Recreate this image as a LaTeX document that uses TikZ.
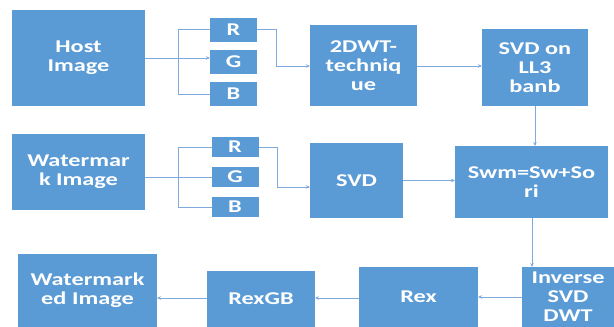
\documentclass[tikz,border=0pt]{standalone}
\usepackage{fontspec}
\usepackage{tikz}
\usetikzlibrary{positioning, arrows.meta, calc}
\newfontfamily\boxfont{Carlito}[FakeStretch=1.35]
\definecolor{BoxBlue}{HTML}{5B9BD5}
\definecolor{LinkBlue}{HTML}{7FAADB}

\begin{document}
\begin{tikzpicture}[
    x=1pt, y=-1pt,
    block/.style={fill=BoxBlue, inner sep=0pt, outer sep=0pt, align=center,
      text=white, font=\boxfont\bfseries\fontsize{18}{19}\selectfont},
    chan/.style={block, minimum width=47pt, minimum height=24pt},
    link/.style={LinkBlue, line width=0.7pt},
    flow/.style={link, -{Stealth[length=4pt, width=3.5pt]}}
]
  \useasboundingbox (0,0) rectangle (614,327);
  \clip (0,0) rectangle (614,327);
  % Host row
  \node[block, minimum width=133pt, minimum height=96pt] (host) at (78.5,58) {Host\\Image};
  \node[chan] (hr) at (233.5,29.5) {R};
  \node[chan] (hg) at (233.5,61.5) {G};
  \node[chan] (hb) at (233.5,94) {B};
  \node[block, minimum width=107pt, minimum height=81pt] (dwt) at (363.5,65.5) {2DWT-\\techniq\\ue};
  \node[block, minimum width=106pt, minimum height=77pt] (svdll) at (535,67.5) {SVD on\\LL3\\banb};
  % Watermark row
  \node[block, minimum width=133pt, minimum height=76pt] (wm) at (78.5,172) {Watermar\\k Image};
  \node[chan, minimum height=20pt] (wr) at (235,147) {R};
  \node[chan, minimum height=20pt] (wg) at (235,177) {G};
  \node[chan, minimum height=20pt] (wb) at (235,207) {B};
  \node[block, minimum width=93pt, minimum height=75pt] (svd) at (356.5,180.5) {SVD};
  \node[block, minimum width=153pt, minimum height=72pt] (swm) at (531.5,182) {Swm=Sw+So\\ri};
  % Output row
  \node[block, minimum width=92pt, minimum height=60pt] (inv) at (568,297) {Inverse\\SVD\\DWT};
  \node[block, minimum width=119pt, minimum height=60pt] (rex) at (418.5,297) {Rex};
  \node[block, minimum width=108pt, minimum height=56pt] (rexgb) at (261,299) {RexGB};
  \node[block, minimum width=139pt, minimum height=73pt] (wmd) at (87.5,290.5) {Watermark\\ed Image};
  % Splits into channels
  \coordinate (hs) at (178,58);
  \coordinate (ws) at (178,177);
  \draw[link] (host.east |- hs) -- (hs);
  \draw[flow] (hs) -- (hs -| hg.west);
  \draw[link] (hr.west -| hs) |- (hr.west);
  \draw[link] (hb.west -| hs) |- (hb.west);
  \draw[link] (hr.west -| hs) -- (hb.west -| hs);
  \draw[link] (wm.east |- ws) -- (ws -| wg.west);
  \draw[link] (wr.west -| ws) -- (wr.west);
  \draw[link] (wb.west -| ws) -- (wb.west);
  \draw[link] (wr.west -| ws) -- (wb.west -| ws);
  % Links between blocks
  \coordinate (hk) at (276,66);
  \coordinate (wk) at (277,187);
  \draw[link] (hr.east) -| (hk);
  \draw[flow] (hk) -- (hk -| dwt.west);
  \draw[link] (wr.east) -| (wk);
  \draw[flow] (wk) -- (wk -| svd.west);
  \draw[flow] (dwt.east |- hk) -- (svdll.west |- hk);
  \draw[flow] (svdll.south) -- (swm.north -| svdll.south);
  \draw[flow] (svd.east) -- (svd.east -| swm.west);
  \draw[flow] (swm.south -| 532,0) -- (inv.north -| 532,0);
  \draw[flow] (inv.west) -- (rex.east);
  \draw[flow] (rex.west |- 0,298) -- (rexgb.east |- 0,298);
  \draw[flow] (rexgb.west |- 0,298) -- (wmd.east |- 0,298);
\end{tikzpicture}
\end{document}
